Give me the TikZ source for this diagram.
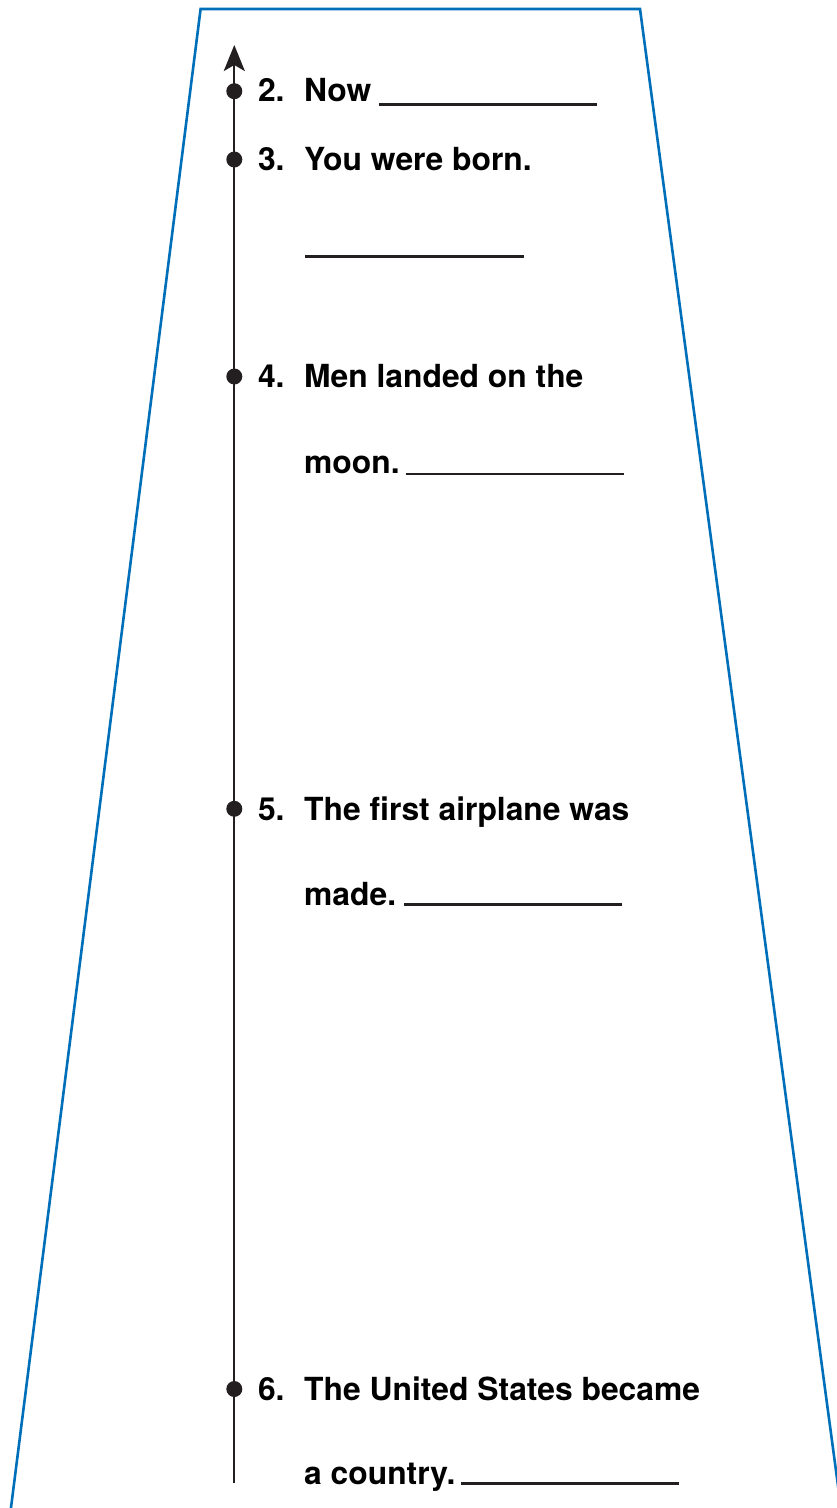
\documentclass[tikz,border=0pt]{standalone}
\usepackage{fontspec}
\setmainfont{TeX Gyre Heros}
\usetikzlibrary{arrows.meta}
\definecolor{trapblue}{RGB}{0,111,186}
\definecolor{inkblack}{RGB}{35,31,32}
\begin{document}
\begin{tikzpicture}[x=1pt,y=-1pt,
  trapline/.style={draw=trapblue,line width=2.6pt,line join=miter},
  axisline/.style={draw=inkblack,line width=2.3pt},
  dotmark/.style={circle,fill=inkblack,inner sep=0pt,minimum size=16pt},
  itemtext/.style={anchor=base west,inner sep=0pt,text=black,
    font=\fontsize{31.8}{38}\selectfont\bfseries},
  blankline/.style={draw=inkblack,line width=2.5pt}]
\useasboundingbox (0,0) rectangle (837,1508);
% trapezoid frame
\coordinate (tl) at (200.6,9);
\coordinate (tr) at (640,9);
\coordinate (bl) at (10.2,1514);
\coordinate (br) at (841.8,1514);
\draw[trapline] (bl) -- (tl) -- (tr) -- (br);
% axis
\coordinate (axbot) at (234.3,1483);
\coordinate (axtop) at (234.3,45);
\draw[axisline,-{Stealth[length=26pt,width=21pt,inset=6pt]}] (axbot) -- (axtop);
% dots
\node[dotmark] (d2) at (234.3,91.2) {};
\node[dotmark] (d3) at (234.3,159.5) {};
\node[dotmark] (d4) at (234.3,376.5) {};
\node[dotmark] (d5) at (234.3,808.8) {};
\node[dotmark] (d6) at (234.3,1389) {};
% item 2
\node[itemtext] (n2) at (257.8,101.5) {2.};
\node[itemtext] (t2) at (304,101.5) {Now};
\coordinate (u2a) at (379,104.3);
\coordinate (u2b) at (597,104.3);
\draw[blankline] (u2a) -- (u2b);
% item 3
\node[itemtext] (n3) at (257.8,170) {3.};
\node[itemtext] (t3) at (304,170) {You were born.};
\coordinate (u3a) at (305,256.7);
\coordinate (u3b) at (524,256.7);
\draw[blankline] (u3a) -- (u3b);
% item 4
\node[itemtext] (n4) at (257.8,387.7) {4.};
\node[itemtext] (t4) at (304,387.7) {Men landed on the};
\node[itemtext] (s4) at (304,473.5) {moon.};
\coordinate (u4a) at (405.5,474);
\coordinate (u4b) at (624,474);
\draw[blankline] (u4a) -- (u4b);
% item 5
\node[itemtext] (n5) at (257.8,820.5) {5.};
\node[itemtext] (t5) at (304,820.5) {The first airplane was};
\node[itemtext] (s5) at (304,905) {made.};
\coordinate (u5a) at (404,904.3);
\coordinate (u5b) at (622,904.3);
\draw[blankline] (u5a) -- (u5b);
% item 6
\node[itemtext] (n6) at (257.8,1400) {6.};
\node[itemtext] (t6) at (304,1400) {The United States became};
\node[itemtext] (s6) at (304,1484) {a country.};
\coordinate (u6a) at (461,1483.5);
\coordinate (u6b) at (678.5,1483.5);
\draw[blankline] (u6a) -- (u6b);
\end{tikzpicture}
\end{document}
